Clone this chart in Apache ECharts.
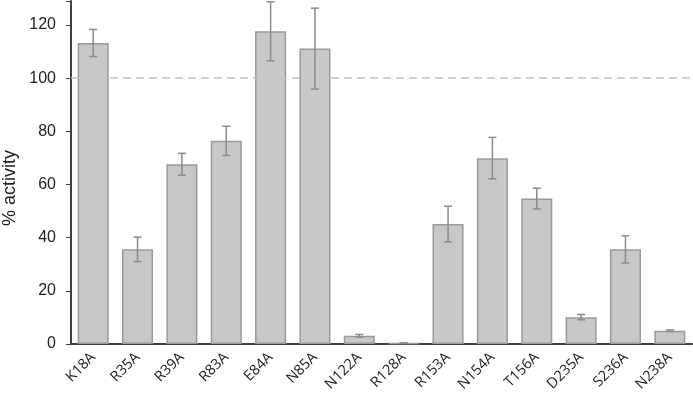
<!DOCTYPE html>
<html>
<head>
<meta charset="utf-8">
<script src="https://cdn.jsdelivr.net/npm/echarts@6/dist/echarts.min.js"></script>
<style>
html, body { margin: 0; padding: 0; background: #fff; }
#chart { width: 693px; height: 397px; }
</style>
</head>
<body>
<div id="chart"></div>
<script>
// mutants
var mutants = ['K18A', 'R35A', 'R39A', 'R83A', 'E84A', 'N85A', 'N122A', 'R128A', 'R153A', 'N154A', 'T156A', 'D235A', 'S236A', 'N238A'];
// % activity (mean)
var activity = [113.2, 35.6, 67.6, 76.4, 117.6, 111.1, 3.1, 0.4, 45.1, 69.9, 54.7, 10.1, 35.6, 5.0];
// error (+/-)
var errors = [5.1, 4.6, 4.1, 5.5, 11.1, 15.2, 0.5, 0.1, 6.7, 7.8, 3.9, 1.0, 5.1, 0.3];
var yTicks = [0, 20, 40, 60, 80, 100, 120];
var refLine = 100;

var errData = mutants.map(function (m, i) {
  return [i, activity[i] - errors[i], activity[i] + errors[i]];
});

var myChart = echarts.init(document.getElementById('chart'));
myChart.setOption({
  animation: false,
  grid: { left: 71, right: 1, top: 1, bottom: 53, containLabel: false },
  graphic: [{
    type: 'text',
    left: 1,
    top: 150,
    rotation: Math.PI / 2,
    style: { text: '% activity', fontSize: 18, fill: '#222', fontFamily: 'Liberation Sans' }
  }],
  xAxis: {
    type: 'category',
    data: mutants,
    axisLine: { lineStyle: { color: '#404040', width: 2 } },
    axisTick: { show: false },
    axisLabel: {
      rotate: 45, interval: 0, color: '#222', fontSize: 14.5,
      fontFamily: 'Open Sans', margin: 11
    }
  },
  yAxis: {
    type: 'value',
    min: 0, max: 129, interval: 20,
    axisLine: { show: true, lineStyle: { color: '#404040', width: 2 } },
    axisTick: { show: true, length: 5, lineStyle: { color: '#404040', width: 1 } },
    axisLabel: {
      color: '#222', fontSize: 16, fontFamily: 'Liberation Sans', margin: 15,
      formatter: function (v) { return yTicks.indexOf(v) >= 0 ? v : ''; }
    },
    splitLine: { show: false }
  },
  series: [
    {
      type: 'bar',
      data: activity,
      barCategoryGap: '30%',
      itemStyle: { color: '#c8c8c8', borderColor: '#9a9a9a', borderWidth: 1.5 },
      markLine: {
        silent: true,
        symbol: 'none',
        label: { show: false },
        lineStyle: { color: '#c4c4c4', type: [8, 5], width: 1.5 },
        data: [{ yAxis: refLine }]
      }
    },
    {
      type: 'custom',
      data: errData,
      z: 5,
      renderItem: function (params, api) {
        var x = api.value(0);
        var lo = api.coord([x, api.value(1)]);
        var hi = api.coord([x, api.value(2)]);
        var cap = 4;
        var st = { stroke: '#8c8c8c', lineWidth: 1.5 };
        return {
          type: 'group',
          children: [
            { type: 'line', shape: { x1: hi[0], y1: hi[1], x2: lo[0], y2: lo[1] }, style: st },
            { type: 'line', shape: { x1: hi[0] - cap, y1: hi[1], x2: hi[0] + cap, y2: hi[1] }, style: st },
            { type: 'line', shape: { x1: lo[0] - cap, y1: lo[1], x2: lo[0] + cap, y2: lo[1] }, style: st }
          ]
        };
      }
    }
  ]
});
</script>
</body>
</html>
